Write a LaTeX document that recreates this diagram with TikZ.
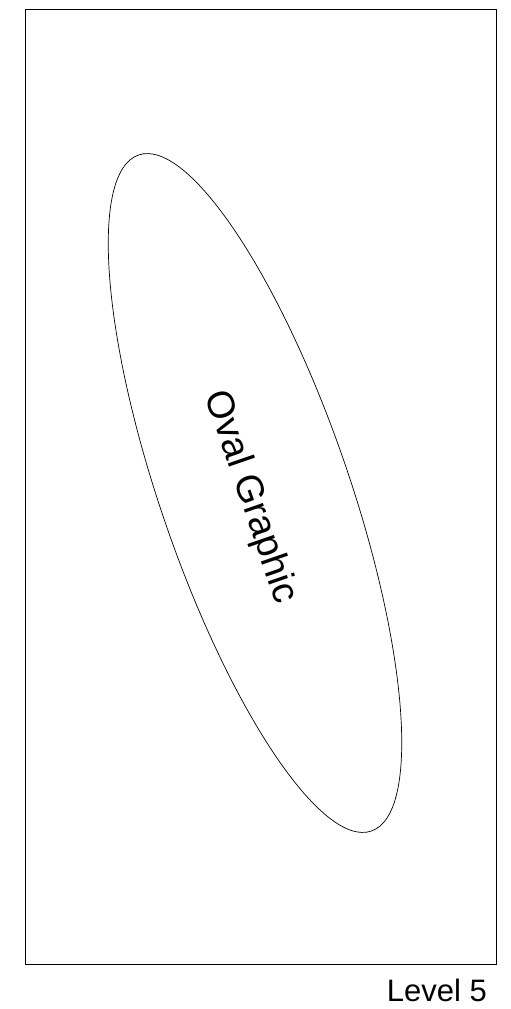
\documentclass[tikz,border=0pt]{standalone}
\usepackage{fontspec}
\setmainfont{Liberation Sans}
\usetikzlibrary{shapes.geometric}

\begin{document}
\begin{tikzpicture}[x=1pt,y=-1pt]
        \useasboundingbox (0,0) rectangle (511,1009);
        \node[draw,line width=1pt,minimum width=471pt,minimum height=955pt,inner sep=0pt] (frame) at (261,487) {};
        \node[draw,ellipse,line width=0.7pt,minimum width=715pt,minimum height=189pt,inner sep=0pt,rotate=-71] (oval) at (255,493) {};
        \node[font=\fontsize{38}{44}\selectfont,rotate=-71] (ovaltext) at (250,497) {Oval Graphic};
        \node[font=\fontsize{31}{36}\selectfont,anchor=base east,inner sep=0pt] (level) at (487,1001) {Level 5};
      \end{tikzpicture}
\end{document}
